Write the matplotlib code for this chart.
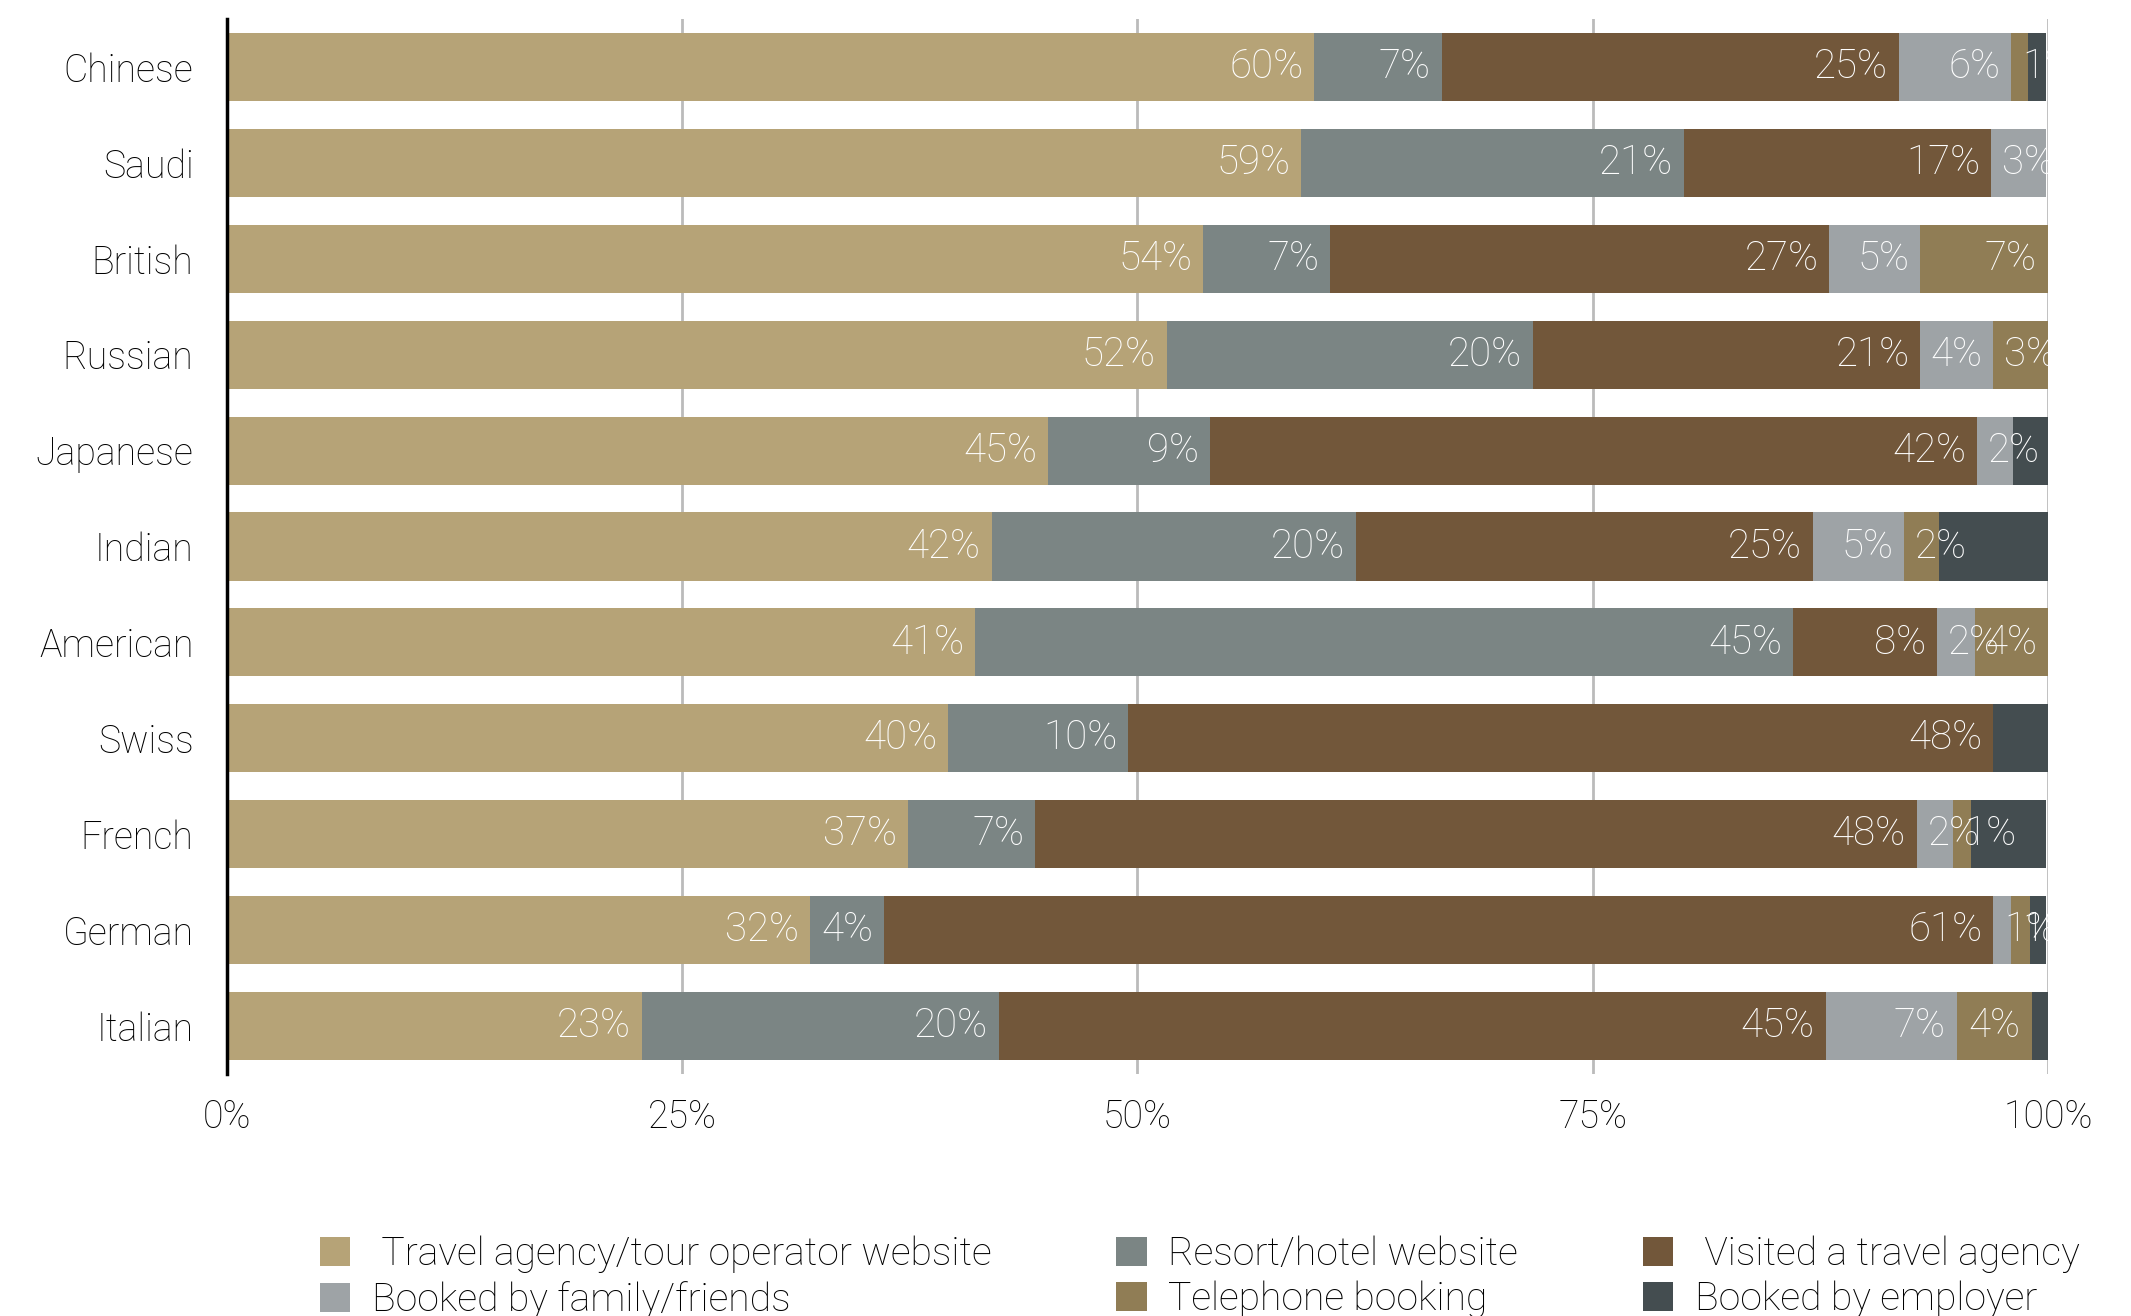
import matplotlib
matplotlib.use("Agg")
import matplotlib.pyplot as plt
from matplotlib.patches import Patch

plt.rcParams["font.family"] = ["Roboto", "DejaVu Sans"]
plt.rcParams["font.weight"] = "light"

nationalities = ["Chinese", "Saudi", "British", "Russian", "Japanese", "Indian",
                 "American", "Swiss", "French", "German", "Italian"]

series = [" Travel agency/tour operator website", "Resort/hotel website",
          " Visited a travel agency", "Booked by family/friends",
          "Telephone booking", "Booked by employer"]

# shares in %
travel_agency = [59.7, 59.0, 53.6, 51.6, 45.1, 42.0, 41.1, 39.6, 37.4, 32.0, 22.8]
resort_hotel = [7.0, 21.0, 7.0, 20.1, 8.9, 20.0, 44.9, 9.9, 7.0, 4.1, 19.6]
visited_agency = [25.1, 16.9, 27.4, 21.3, 42.1, 25.1, 7.9, 47.5, 48.4, 60.9, 45.4]
family_friends = [6.2, 3.0, 5.0, 4.0, 2.0, 5.0, 2.1, 0.0, 2.0, 1.0, 7.2]
telephone = [0.9, 0.0, 7.0, 3.0, 0.0, 1.9, 4.0, 0.0, 1.0, 1.0, 4.1]
employer = [1.0, 0.0, 0.0, 0.0, 1.9, 6.0, 0.0, 3.0, 4.1, 0.9, 1.0]

colors = ["#b6a377", "#7b8584", "#72573a", "#9ea3a6", "#907d55", "#444d50"]
show_labels = [True, True, True, True, True, False]

data = [travel_agency, resort_hotel, visited_agency, family_friends, telephone, employer]

fig = plt.figure(figsize=(21.31, 13.16), dpi=100)
ax = fig.add_axes([0.1065, 0.184, 0.8545, 0.8015])

y = list(range(len(nationalities)))
left = [0.0] * len(nationalities)
pad = 0.6
for vals, col, lab in zip(data, colors, show_labels):
    ax.barh(y, vals, left=left, height=0.71, color=col, zorder=2)
    if lab:
        for i, v in enumerate(vals):
            if v <= 0:
                continue
            txt = f"{round(v)}%"
            if v >= 3.5:
                t = ax.text(left[i] + v - pad, i, txt, ha="right", va="center",
                            color="white", fontsize=29, zorder=3)
            else:
                t = ax.text(left[i] + pad, i, txt, ha="left", va="center",
                            color="white", fontsize=29, zorder=3)
            t.set_clip_on(True)
            t.set_clip_path(ax.patch)
    left = [a + b for a, b in zip(left, vals)]

ax.set_xlim(0, 100)
ax.set_ylim(len(nationalities) - 0.5, -0.5)
ax.set_yticks(y)
ax.set_yticklabels(nationalities)
ax.set_xticks([0, 25, 50, 75, 100])
ax.set_xticklabels(["0%", "25%", "50%", "75%", "100%"])
ax.tick_params(axis="both", length=0, labelsize=27, colors="black")
ax.tick_params(axis="y", pad=24)
ax.tick_params(axis="x", pad=18)
ax.xaxis.grid(True, color="#bbbbbb", linewidth=2, zorder=0)
ax.set_axisbelow(True)
for s in ["top", "right", "bottom"]:
    ax.spines[s].set_visible(False)
ax.spines["left"].set_color("black")
ax.spines["left"].set_linewidth(2.5)
ax.spines["left"].set_zorder(4)

# legend filled column by column
order = [0, 3, 1, 4, 2, 5]
handles = [Patch(facecolor=colors[k], label=series[k]) for k in order]
leg = fig.legend(handles=handles, loc="lower center", bbox_to_anchor=(0.563, -0.029),
                 ncol=3, frameon=False, fontsize=28.2, handlelength=0.77, handleheight=0.77,
                 handletextpad=0.55, columnspacing=3.2, labelspacing=0.2)
for t in leg.get_texts():
    t.set_color("black")

fig.savefig("out.png", dpi=100)
